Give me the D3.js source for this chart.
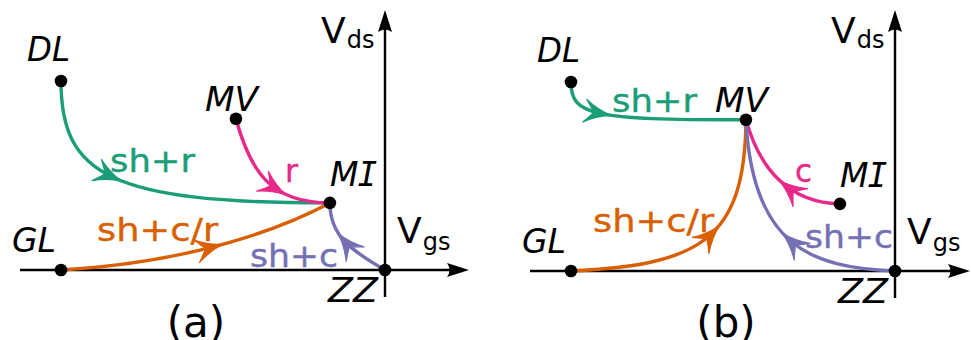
<!DOCTYPE html>
<html><head><meta charset="utf-8">
<script src="https://cdn.jsdelivr.net/npm/d3@7"></script>
<style>html,body{margin:0;padding:0;background:#fff;} svg{display:block}</style>
</head><body><svg id="chart" width="971" height="340"></svg>
<script>
// ---------------- data ----------------
const panels = ["(a)", "(b)"];
const nodeNames = ["DL", "MV", "MI", "GL", "ZZ"];
const nodeVgs = [-1, -0.46, -0.17, -1, 0];
const nodeVds = [1, 0.8, 0.355, 0, 0];

const edgeLabelsA = ["sh+r", "r", "sh+c/r", "sh+c"];
const edgeFromA = ["DL", "MV", "GL", "ZZ"];
const edgeToA = ["MI", "MI", "MI", "MI"];
// bezier control points (Vgs, Vds) of each trajectory
const edgeCtrlA = [
  [[-1, 0.503], [-0.849, 0.354]],
  [[-0.417, 0.529], [-0.355, 0.354]],
  [[-0.725, 0.026], [-0.417, 0.132]],
  [[-0.108, 0.106], [-0.170, 0.185]]
];
const edgeLabelsB = ["sh+r", "c", "sh+c/r", "sh+c"];
const edgeFromB = ["DL", "MI", "GL", "ZZ"];
const edgeToB = ["MV", "MV", "MV", "MV"];
const edgeCtrlB = [
  [[-1, 0.825], [-0.941, 0.799]],
  [[-0.324, 0.36], [-0.417, 0.534]],
  [[-0.602, 0.032], [-0.463, 0.164]],
  [[-0.262, 0.016], [-0.441, 0.138]]
];
const axisMain = "V";
const axisSubY = "ds";
const axisSubX = "gs";

// ---------------- layout ----------------
const W = 971, H = 340;
const colors = d3.scaleOrdinal().domain([0,1,2,3]).range(["#1b9e77", "#e7298a", "#d95f02", "#7570b3"]);
const panelLayout = [
  {x0: 61, x1: 385, y0: 270, y1: 81, axLeft: 20, axRight: 470,
   edgeLab: [[110,172],[285,182],[97,241],[250,267]], arrowAt: [0.36, 0.64, 0.57, 0.6],
   title: 196},
  {x0: 571, x1: 895, y0: 271, y1: 82, axLeft: 530, axRight: 971,
   edgeLab: [[612,112],[795,182],[593,232],[805,248]], arrowAt: [0.28, 0.45, 0.57, 0.48],
   title: 726}
];
const nodeLabOff = {DL: [-34, -20], MV: [-31, -8], MI: [0, -17], GL: [-49, -18], ZZ: [-57, 32]};
const nodeLabW = {DL: 43, MV: 53, MI: 45, GL: 44, ZZ: 50};
const edgeLabW = {"sh+r": 85, "r": 13, "c": 17, "sh+c/r": 121, "sh+c": 88};

const svg = d3.select("#chart");
svg.append("rect").attr("width", W).attr("height", H).attr("fill", "#fff");
const FONT = "'DejaVu Sans', Verdana, sans-serif";
const MONO = "'DejaVu Sans Mono', monospace";

panels.forEach((title, pi) => {
  const L = panelLayout[pi];
  const x = d3.scaleLinear().domain([-1, 0]).range([L.x0, L.x1]);
  const y = d3.scaleLinear().domain([0, 1]).range([L.y0, L.y1]);
  const g = svg.append("g");
  const labels = pi === 0 ? edgeLabelsA : edgeLabelsB;
  const froms = pi === 0 ? edgeFromA : edgeFromB;
  const tos = pi === 0 ? edgeToA : edgeToB;
  const ctrls = pi === 0 ? edgeCtrlA : edgeCtrlB;
  const idx = n => nodeNames.indexOf(n);

  // axes
  const ox = x(0), oy = y(0);
  g.append("line").attr("x1", L.axLeft).attr("x2", L.axRight - 12).attr("y1", oy).attr("y2", oy)
    .attr("stroke", "#000").attr("stroke-width", 2.4);
  g.append("line").attr("x1", ox).attr("x2", ox).attr("y1", oy + 27).attr("y2", 24)
    .attr("stroke", "#000").attr("stroke-width", 2.4);
  const ah = "M0,0 L-22,-7 Q-17,0 -22,7 Z";
  g.append("path").attr("d", ah).attr("fill", "#000")
    .attr("transform", `translate(${L.axRight - 1},${oy})`);
  g.append("path").attr("d", ah).attr("fill", "#000")
    .attr("transform", `translate(${ox},10) rotate(-90)`);

  // axis labels
  const ty = g.append("text").attr("x", ox - 64).attr("y", 43).attr("font-family", FONT).attr("fill", "#000");
  ty.append("tspan").attr("font-size", 36).text(axisMain);
  ty.append("tspan").attr("font-size", 24).attr("dx", 1).attr("dy", 5).text(axisSubY);
  const tx = g.append("text").attr("x", ox + 12).attr("y", oy - 27).attr("font-family", FONT).attr("fill", "#000");
  tx.append("tspan").attr("font-size", 36).text(axisMain);
  tx.append("tspan").attr("font-size", 24).attr("dx", 1).attr("dy", 7).text(axisSubX);

  // trajectories
  labels.forEach((lab, ei) => {
    const a = idx(froms[ei]), b = idx(tos[ei]);
    const p0 = [x(nodeVgs[a]), y(nodeVds[a])];
    const p3 = [x(nodeVgs[b]), y(nodeVds[b])];
    const c1 = [x(ctrls[ei][0][0]), y(ctrls[ei][0][1])];
    const c2 = [x(ctrls[ei][1][0]), y(ctrls[ei][1][1])];
    const pth = d3.path();
    pth.moveTo(p0[0], p0[1]);
    pth.bezierCurveTo(c1[0], c1[1], c2[0], c2[1], p3[0], p3[1]);
    const el = g.append("path").attr("d", pth.toString()).attr("fill", "none")
      .attr("stroke", colors(ei)).attr("stroke-width", 3.4).attr("stroke-linecap", "round");
    const node = el.node();
    const len = node.getTotalLength();
    const l = len * L.arrowAt[ei];
    const pA = node.getPointAtLength(l);
    const pB = node.getPointAtLength(Math.max(0, l - 3));
    const ang = Math.atan2(pA.y - pB.y, pA.x - pB.x) * 180 / Math.PI;
    g.append("path").attr("d", "M5,0 Q-9,-3 -22,-11.5 Q-14,-2 -13,0 Q-14,2 -22,11.5 Q-9,3 5,0 Z")
      .attr("fill", colors(ei)).attr("stroke", colors(ei)).attr("stroke-width", 1.2)
      .attr("stroke-linejoin", "round")
      .attr("transform", `translate(${pA.x},${pA.y}) rotate(${ang})`);
    const t = g.append("text").attr("x", L.edgeLab[ei][0]).attr("y", L.edgeLab[ei][1])
      .attr("font-family", FONT).attr("font-size", 32).attr("fill", colors(ei))
      .attr("stroke", colors(ei)).attr("stroke-width", 0.4).text(lab);
    t.attr("textLength", edgeLabW[lab]).attr("lengthAdjust", "spacingAndGlyphs");
  });

  // nodes
  nodeNames.forEach((n, ni) => {
    const cx = x(nodeVgs[ni]), cy = y(nodeVds[ni]);
    g.append("circle").attr("cx", cx).attr("cy", cy).attr("r", 6.3).attr("fill", "#000");
    const t = g.append("text").attr("x", cx + nodeLabOff[n][0]).attr("y", cy + nodeLabOff[n][1])
      .attr("font-family", FONT).attr("font-style", "italic").attr("font-size", 33)
      .attr("fill", "#000");
    if (n === "MI") {
      t.append("tspan").text("M");
      t.append("tspan").attr("font-family", MONO).attr("dx", -1).text("I");
    } else {
      t.attr("textLength", nodeLabW[n]).attr("lengthAdjust", "spacingAndGlyphs").text(n);
    }
  });

  // panel title (cut at the bottom edge, as in the reference)
  g.append("text").attr("x", L.title).attr("y", 337).attr("text-anchor", "middle")
    .attr("font-family", FONT).attr("font-size", 42).attr("fill", "#000").text(title);
});
</script></body></html>
